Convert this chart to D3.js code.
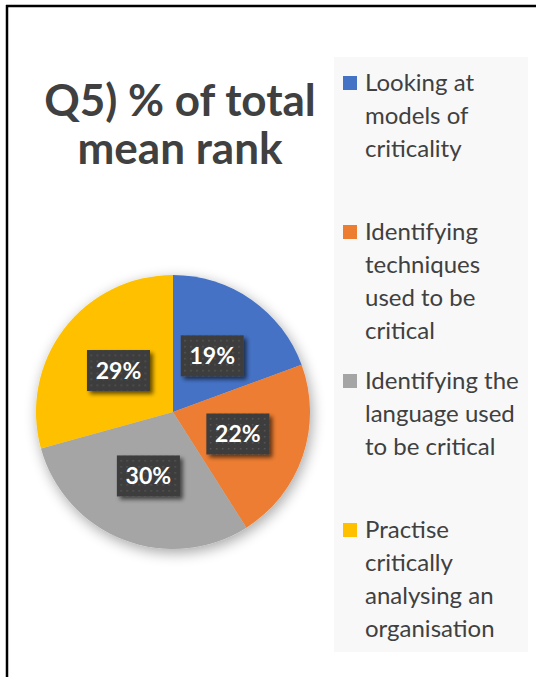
<!DOCTYPE html>
<html>
<head>
<meta charset="utf-8">
<script src="https://cdn.jsdelivr.net/npm/d3@7/dist/d3.min.js"></script>
<style>
  html, body { margin: 0; padding: 0; background: #fff; }
  svg { display: block; }
</style>
</head>
<body>
<svg id="canvas"></svg>
<script>
// Data
const categories = [
  "Looking at models of criticality",
  "Identifying techniques used to be critical",
  "Identifying the language used to be critical",
  "Practise critically analysing an organisation"
];
// share of total mean rank (%)
const values = [19.4, 21.6, 29.7, 29.3];
const colors = ["#4472C4", "#ED7D31", "#A5A5A5", "#FFC000"];
// legend text as it wraps in the picture
const legendLines = [
  ["Looking at", "models of", "criticality"],
  ["Identifying", "techniques", "used to be", "critical"],
  ["Identifying the", "language used", "to be critical"],
  ["Practise", "critically", "analysing an", "organisation"]
];
const titleLines = ["Q5) % of total", "mean rank"];

const width = 536, height = 677;
const svg = d3.select("#canvas").attr("width", width).attr("height", height);

const defs = svg.append("defs");
// soft glow round the pie
const pieShadow = defs.append("filter").attr("id", "pieShadow")
  .attr("x", "-20%").attr("y", "-20%").attr("width", "140%").attr("height", "140%");
pieShadow.append("feGaussianBlur").attr("in", "SourceAlpha").attr("stdDeviation", 7).attr("result", "b");
pieShadow.append("feOffset").attr("in", "b").attr("dx", 2).attr("dy", 4).attr("result", "o");
pieShadow.append("feComponentTransfer").attr("in", "o").attr("result", "s")
  .append("feFuncA").attr("type", "linear").attr("slope", 0.35);
const pm = pieShadow.append("feMerge");
pm.append("feMergeNode").attr("in", "s");
pm.append("feMergeNode").attr("in", "SourceGraphic");

// label box shadow
const boxShadow = defs.append("filter").attr("id", "boxShadow")
  .attr("x", "-20%").attr("y", "-20%").attr("width", "150%").attr("height", "160%");
boxShadow.append("feGaussianBlur").attr("in", "SourceAlpha").attr("stdDeviation", 2).attr("result", "b");
boxShadow.append("feOffset").attr("in", "b").attr("dx", 3).attr("dy", 3).attr("result", "o");
boxShadow.append("feComponentTransfer").attr("in", "o").attr("result", "s")
  .append("feFuncA").attr("type", "linear").attr("slope", 0.6);
const bm = boxShadow.append("feMerge");
bm.append("feMergeNode").attr("in", "s");
bm.append("feMergeNode").attr("in", "SourceGraphic");

// dotted fill of the label boxes
const dots = defs.append("pattern").attr("id", "dots")
  .attr("width", 6).attr("height", 6).attr("patternUnits", "userSpaceOnUse");
dots.append("rect").attr("width", 6).attr("height", 6).attr("fill", "#3d3d3d");
dots.append("rect").attr("x", 2).attr("y", 2).attr("width", 1.5).attr("height", 1.5).attr("fill", "#575757");

// frame lines (top and left)
svg.append("line").attr("x1", 6).attr("x2", width).attr("y1", 6).attr("y2", 6)
  .attr("stroke", "#000").attr("stroke-width", 2.5);
svg.append("line").attr("x1", 7).attr("x2", 7).attr("y1", 5).attr("y2", height)
  .attr("stroke", "#000").attr("stroke-width", 2.5);

// Title
svg.append("text")
  .attr("x", 180).attr("y", 116)
  .attr("text-anchor", "middle")
  .style("font-family", "Lato, 'Open Sans', sans-serif")
  .style("font-weight", "bold")
  .style("font-size", "44px")
  .attr("fill", "#404040")
  .selectAll("tspan").data(titleLines).enter().append("tspan")
  .attr("x", 180).attr("dy", (d, i) => i === 0 ? 0 : 48)
  .text(d => d);

// Legend panel
svg.append("rect").attr("x", 334).attr("y", 57).attr("width", 194).attr("height", 595).attr("fill", "#f8f8f8");

const legendY = d3.scaleBand().domain(categories).range([76, 672]);
const legend = svg.append("g").selectAll("g").data(categories).enter().append("g")
  .attr("transform", d => `translate(343, ${legendY(d)})`);
legend.append("rect").attr("width", 14).attr("height", 14)
  .attr("fill", (d, i) => colors[i]);
legend.append("text")
  .attr("x", 22).attr("y", 15)
  .style("font-family", "Lato, 'Open Sans', sans-serif")
  .style("font-size", "24px")
  .attr("fill", "#404040")
  .each(function(d, i) {
    d3.select(this).selectAll("tspan").data(legendLines[i]).enter().append("tspan")
      .attr("x", 22).attr("dy", (t, j) => j === 0 ? 0 : 33)
      .text(t => t);
  });

// Pie
const cx = 173, cy = 412, radius = 137;
const pie = d3.pie().sort(null).value(d => d);
const arc = d3.arc().innerRadius(0).outerRadius(radius);
const arcs = pie(values);
const total = d3.sum(values);

const pieG = svg.append("g").attr("transform", `translate(${cx}, ${cy})`);
pieG.append("g").attr("filter", "url(#pieShadow)")
  .selectAll("path").data(arcs).enter().append("path")
  .attr("d", arc)
  .attr("fill", (d, i) => colors[i]);

// Data labels
const labels = pieG.selectAll(".lbl").data(arcs).enter().append("g")
  .attr("class", "lbl")
  .attr("transform", d => `translate(${arc.centroid(d)})`);
labels.append("rect")
  .attr("x", -31.5).attr("y", -20.5).attr("width", 63).attr("height", 41)
  .attr("fill", "url(#dots)")
  .attr("filter", "url(#boxShadow)");
labels.append("text")
  .attr("text-anchor", "middle").attr("dy", "0.36em")
  .style("font-family", "Lato, 'Open Sans', sans-serif")
  .style("font-weight", "bold")
  .style("font-size", "23px")
  .attr("fill", "#fff")
  .text(d => Math.round(d.value / total * 100) + "%");
</script>
</body>
</html>
